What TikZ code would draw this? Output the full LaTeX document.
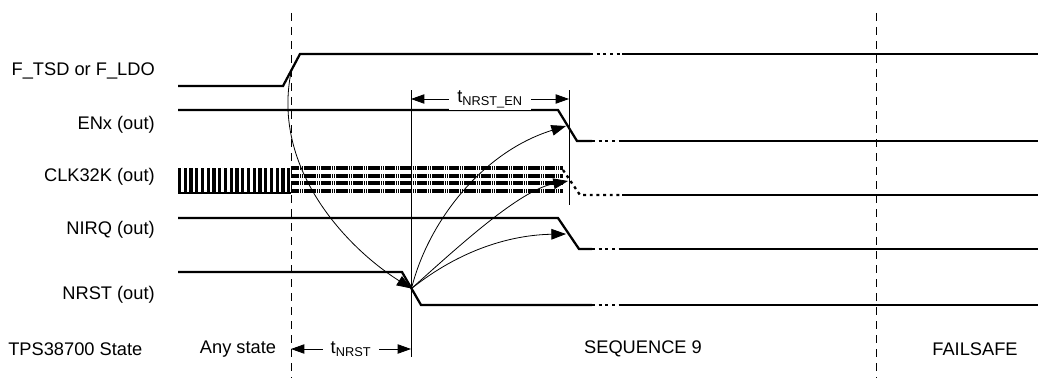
\documentclass[tikz,border=0pt]{standalone}
\usepackage{fontspec}
\setmainfont{Liberation Sans}
\usetikzlibrary{arrows.meta}

\newcommand\sigfont{\fontsize{13.7}{16}\selectfont}

\tikzset{
  sig/.style={line width=1.7pt},
  brk/.style={line width=1.7pt, dash pattern=on 2.2pt off 2.8pt},
  fuzz/.style={line width=2.5pt, dash pattern=on 1.3pt off 0.3pt},
  bound/.style={line width=0.6pt, dash pattern=on 6pt off 4.5pt},
  guide/.style={line width=0.7pt},
  cause/.style={-{Triangle[length=11pt,width=8pt]}, line width=0.6pt},
  dim/.style={{Triangle[length=10pt,width=7pt]}-{Triangle[length=10pt,width=7pt]}, line width=0.6pt},
  lbl/.style={font=\sigfont, inner sep=0pt},
}

\begin{document}
\begin{tikzpicture}[x=0.75pt,y=0.75pt,yscale=-1,xscale=1]
  \useasboundingbox (0,0) rectangle (1038,378);

  % state boundaries
  \draw[bound] (291,13) -- (291,378);
  \draw[bound] (876,13) -- (876,378);
  \draw[guide] (411,90) -- (411,357);
  \draw[guide] (569,90) -- (569,205);

  % signal names
  \node[lbl, anchor=east] (ftsd) at (155,71) {F\_TSD or F\_LDO};
  \node[lbl, anchor=east] (enxl) at (155,125) {ENx (out)};
  \node[lbl, anchor=east] (clkl) at (155,177) {CLK32K (out)};
  \node[lbl, anchor=east] (nirql) at (155,230) {NIRQ (out)};
  \node[lbl, anchor=east] (nrstl) at (155,295) {NRST (out)};

  % F_TSD or F_LDO
  \draw[sig] (178,86) -- (283,86) -- (300,54) -- (590,54);
  \draw[brk] (590,54) -- (622,54);
  \draw[sig] (622,54) -- (1038,54);
  \coordinate (tsd) at (291.5,70);

  % ENx
  \draw[sig] (178,110) -- (558,110) -- (577,141) -- (592,141);
  \draw[brk] (592,141) -- (622,141);
  \draw[sig] (622,141) -- (1038,141);
  \coordinate (enx) at (566,126);

  % CLK32K
  \foreach \k in {0,...,19}
    \draw[line width=2.4pt] (179.5+\k*5.75,193) -- (179.5+\k*5.75,168);
  \draw[sig] (178,193) -- (291,193);
  \foreach \y in {168,176,183,191}
    \draw[fuzz] (291,\y) -- (563,\y);
  \draw[brk] (563,170) -- (580,195) -- (622,195);
  \draw[sig] (622,195) -- (1038,195);
  \coordinate (clk) at (568,181);

  % NIRQ
  \draw[sig] (178,218) -- (558,218) -- (579,249) -- (592,249);
  \draw[brk] (592,249) -- (622,249);
  \draw[sig] (622,249) -- (1038,249);
  \coordinate (nirq) at (566,234);

  % NRST
  \draw[sig] (178,272) -- (402,272) -- (421,305) -- (592,305);
  \draw[brk] (592,305) -- (622,305);
  \draw[sig] (622,305) -- (1038,305);
  \coordinate (nrst) at (411.5,288.5);

  % causes
  \draw[cause] (tsd) .. controls (270,170) and (350,250) .. (nrst);
  \draw[cause] (nrst) .. controls (428,222) and (482,152) .. (enx);
  \draw[cause] (nrst) .. controls (460,245) and (520,190) .. (clk);
  \draw[cause] (nrst) .. controls (460,250) and (510,235) .. (nirq);

  % timings
  \draw[dim] (411,99) -- (569,99);
  \node[lbl, fill=white, inner xsep=6pt, inner ysep=2pt] (tnrsten) at (490,99) {t\textsubscript{NRST\_EN}};
  \draw[dim] (291,349) -- (411,349);
  \node[lbl, fill=white, inner xsep=6pt, inner ysep=2pt] (tnrst) at (351,349) {t\textsubscript{NRST}};

  % states
  \node[lbl, anchor=west] (statel) at (8,349) {TPS38700 State};
  \node[lbl] (anyst) at (238,349) {Any state};
  \node[lbl] (seq) at (643,349) {SEQUENCE 9};
  \node[lbl] (fails) at (975,349) {FAILSAFE};
\end{tikzpicture}
\end{document}
